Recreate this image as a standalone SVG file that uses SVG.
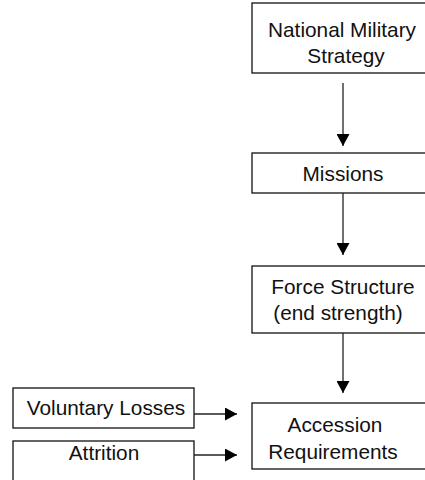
<svg xmlns="http://www.w3.org/2000/svg" width="425" height="480" viewBox="0 0 425 480">
<style>
.box{fill:#fff;stroke:#111;stroke-width:1.3}
.t{font-family:"Liberation Sans",Arial,sans-serif;font-size:20.8px;fill:#111;text-anchor:middle}
.c{stroke:#222;stroke-width:1.3;fill:none}
</style>
<defs>
<marker id="ah" markerUnits="userSpaceOnUse" markerWidth="13" markerHeight="13" refX="12" refY="6.5" orient="auto">
<path d="M0,0 L12,6.5 L0,13 Z" fill="#000"/>
</marker>
</defs>
<g id="n1"><rect class="box" x="252" y="3" width="180" height="70"/>
<text class="t" x="342" y="37">National Military</text>
<text class="t" x="346" y="63">Strategy</text></g>
<g id="n2"><rect class="box" x="252" y="153" width="180" height="40"/>
<text class="t" x="343" y="181">Missions</text></g>
<g id="n3"><rect class="box" x="252" y="266" width="180" height="67"/>
<text class="t" x="343" y="294">Force Structure</text>
<text class="t" x="338" y="320">(end strength)</text></g>
<g id="n4"><rect class="box" x="252" y="403" width="180" height="66"/>
<text class="t" x="335" y="432">Accession</text>
<text class="t" x="333" y="459">Requirements</text></g>
<g id="n5"><rect class="box" x="13" y="388" width="181" height="40"/>
<text class="t" x="106" y="415">Voluntary Losses</text></g>
<g id="n6"><rect class="box" x="13" y="441" width="181" height="45"/>
<text class="t" x="104" y="460">Attrition</text></g>
<g id="connectors">
<line class="c" x1="343" y1="83" x2="343" y2="146" marker-end="url(#ah)"/>
<line class="c" x1="343" y1="193" x2="343" y2="255" marker-end="url(#ah)"/>
<line class="c" x1="343" y1="333" x2="343" y2="393" marker-end="url(#ah)"/>
<line class="c" x1="194" y1="414" x2="237" y2="414" marker-end="url(#ah)"/>
<line class="c" x1="194" y1="455" x2="237" y2="455" marker-end="url(#ah)"/>
</g>
</svg>
